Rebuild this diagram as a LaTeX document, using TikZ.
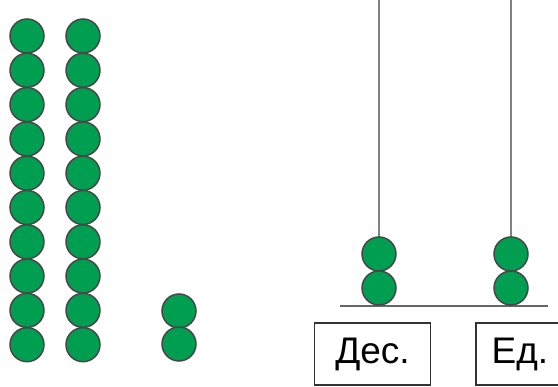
\documentclass[tikz,border=0pt]{standalone}
\usepackage{fontspec}
\setmainfont{Liberation Sans}
\definecolor{beadgreen}{RGB}{0,158,80}
\definecolor{rodgray}{RGB}{130,130,130}
\tikzset{bead/.style={circle,fill=beadgreen,draw=black!72,line width=1.5pt,minimum size=34pt,inner sep=0pt},
  place/.style={draw=black!80,line width=1.6pt,minimum height=62pt,inner sep=0pt,font=\fontsize{37}{37}\selectfont}}
\begin{document}
\begin{tikzpicture}[x=1pt,y=-1pt]
\useasboundingbox(0,0)rectangle(558,387);
\foreach \i in {0,...,9}{
\node[bead](a\i) at (27,36+34.3*\i){};
\node[bead](b\i) at (83,36+34.3*\i){};
}
\node[bead](c0) at (179,311){};
\node[bead](c1) at (179,344){};
% abacus
\coordinate(tA) at (379,0);
\coordinate(tB) at (511,0);
\coordinate(bL) at (340,306);
\coordinate(bR) at (548,306);
\draw[rodgray,line width=2.2pt](tA)--(tA|-bL);
\draw[rodgray,line width=2.2pt](tB)--(tB|-bL);
\draw[black!60,line width=2pt](bL)--(bR);
\node[bead](d0) at (379,288){};
\node[bead](d1) at (379,254){};
\node[bead](e0) at (511,288){};
\node[bead](e1) at (511,254){};
\node[place,minimum width=116pt](tens) at (372.5,354){Дес.};
\node[place,minimum width=88pt](ones) at (520,354){Ед.};
\end{tikzpicture}
\end{document}
